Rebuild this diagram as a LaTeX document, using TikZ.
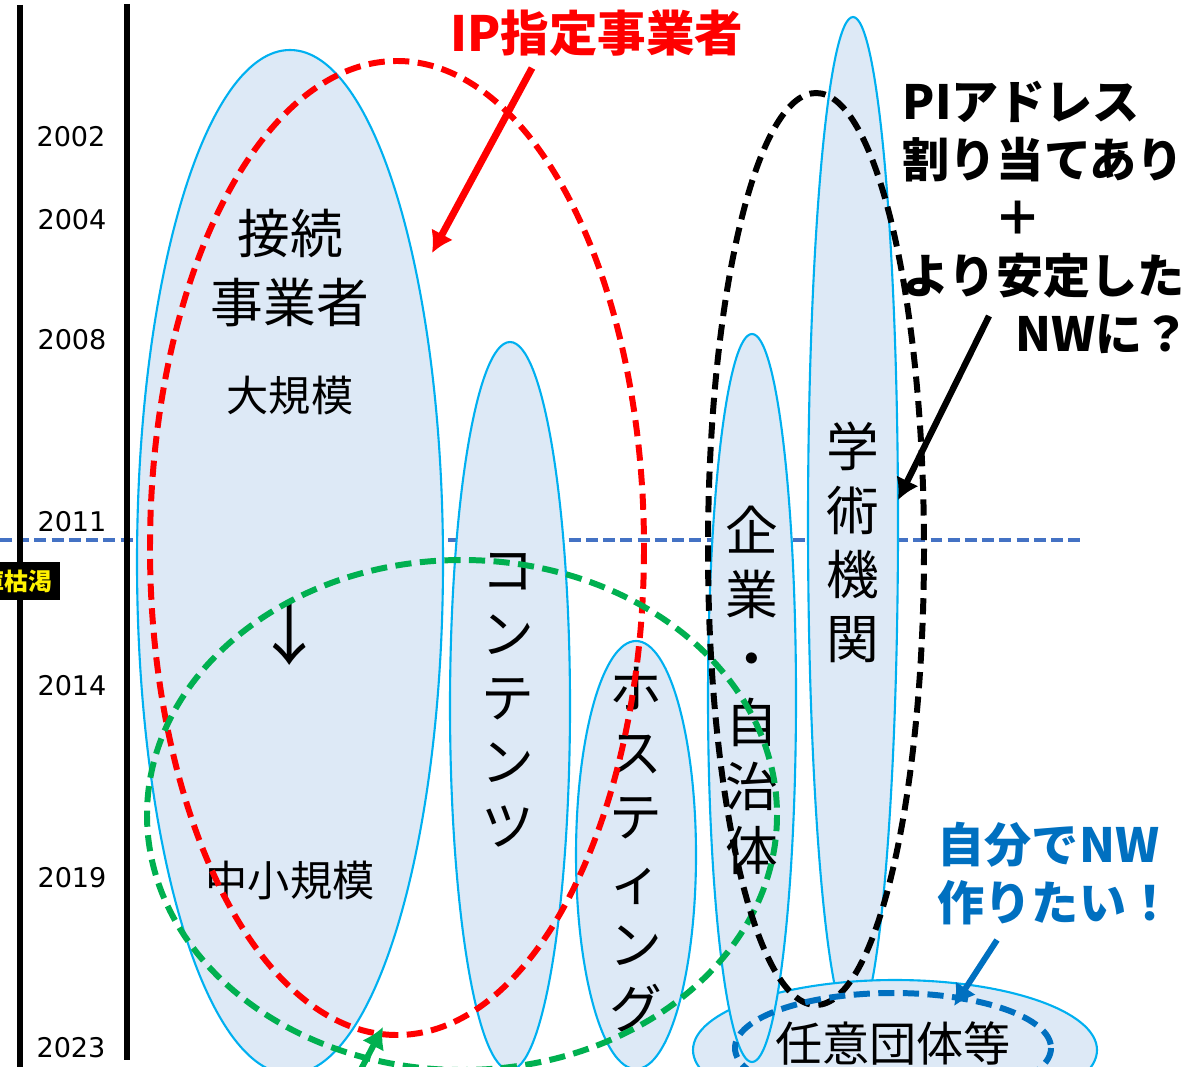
\documentclass[tikz,border=0pt]{standalone}
\usepackage{fontspec}
\setmainfont{Noto Sans CJK JP}
\newfontfamily\yearfont{DejaVu Sans}
\usetikzlibrary{arrows,arrows.meta,positioning}
\definecolor{cellblue}{RGB}{221,233,246}
\definecolor{cellline}{RGB}{0,176,240}
\definecolor{epochblue}{RGB}{68,114,196}
\definecolor{pgreen}{RGB}{0,176,80}
\definecolor{pblue}{RGB}{0,112,192}
\definecolor{pred}{RGB}{255,0,0}

\begin{document}
\begin{tikzpicture}[%
      x=0.01cm, y=-0.01cm,
      every node/.style={inner sep=0pt, align=center},
      cell/.style={draw=cellline, fill=cellblue, line width=0.6pt},
      ring/.style={line width=1.7pt, dash pattern=on 4.6pt off 2.4pt},
      yearlbl/.style={font=\yearfont\fontsize{7.7}{9}\selectfont},
      vlbl/.style={font=\fontsize{15}{18.2}\selectfont},
      big/.style={font=\fontsize{15}{18.2}\selectfont},
      mid/.style={font=\fontsize{12}{14}\selectfont},
      note/.style={font=\bfseries\fontsize{13.4}{16.5}\selectfont, align=left},
      node distance=0.8cm, >={Latex[length=6pt,width=7pt]}
    ]
    \useasboundingbox (0,0) rectangle (1185,1067);
    % time axis
    \draw [epochblue, line width=1.1pt, dash pattern=on 3.4pt off 1.5pt] (0,540) -- (1080,540);
    \draw [line width=1.7pt] (20,5) -- (20,1067);
    \draw [line width=1.7pt] (127,4) -- (127,1060);
    \node [yearlbl] (y2002) at (71,137) {2002};
    \node [yearlbl] (y2004) at (72,220) {2004};
    \node [yearlbl] (y2008) at (72,340) {2008};
    \node [yearlbl] (y2011) at (72,522) {2011};
    \node [yearlbl] (y2014) at (72,686) {2014};
    \node [yearlbl] (y2019) at (72,878) {2019};
    \node [yearlbl] (y2023) at (71,1048) {2023};
    \node [fill=black, text=yellow, inner sep=2.2pt, anchor=east,
      font=\bfseries\fontsize{6.8}{8}\selectfont] (kokatsu) at (61,581) {在庫枯渇};

    % groups
    \draw [cell] (290,562) ellipse [x radius=153, y radius=512];
    \draw [cell] (510,706) ellipse [x radius=60, y radius=364];
    \draw [cell] (636,855) ellipse [x radius=60, y radius=214];
    \draw [cell] (853,523) ellipse [x radius=45, y radius=506];
    \draw [cell] (895,1050) ellipse [x radius=202, y radius=70];
    \draw [cell] (752,698) ellipse [x radius=44, y radius=364];

    \node [big] (setsu) at (290,233) {接続};
    \node [big, below=0.19cm of setsu] (jigyo) {事業者};
    \node [mid] (daikibo) at (290,395) {大規模};
    \node [font=\fontsize{20}{22}\selectfont] (shift) at (290,633) {↓};
    \node [mid] (chusho) at (290,880) {中小規模};
    \node [vlbl] (content) at (508,700) {コ\\ン\\テ\\ン\\ツ};
    \node [vlbl] (hosting) at (636,850) {ホ\\ス\\テ\\ィ\\ン\\グ};
    \node [vlbl] (kigyo) at (752,690) {企\\業\\・\\自\\治\\体};
    \node [vlbl] (gakujutsu) at (853,542) {学\\術\\機\\関};
    \node [font=\fontsize{13.4}{16}\selectfont] (nini) at (893,1043) {任意団体等};

    % rings
    \draw [ring, pred] (397,548) ellipse [x radius=247, y radius=487];
    \draw [ring, pgreen] (462,815) ellipse [x radius=315, y radius=255];
    \draw [ring, black] (816,549) ellipse [x radius=108, y radius=456];
    \draw [ring, pblue] (893,1048) ellipse [x radius=158, y radius=55];

    % callouts
    \node [font=\bfseries\fontsize{13.8}{16}\selectfont, text=pred] (ipsp) at (597,33) {IP指定事業者};
    \node [note, anchor=west] (piaddr) at (902,217) {PIアドレス\\割り当てあり\\\hspace{26pt}＋\\より安定した\\\hspace{32pt}NWに？};
    \node [note, anchor=west, text=pblue] (selfnw) at (937,874) {自分でNW\\作りたい！};
    \coordinate (redfrom) at (532,68);
    \coordinate (redto) at (432,253);
    \coordinate (blkfrom) at (989,316);
    \coordinate (blkto) at (898,500);
    \coordinate (bluefrom) at (997,940);
    \coordinate (blueto) at (954,1006);
    \coordinate (grnfrom) at (358,1075);
    \coordinate (grnto) at (383,1027);
    \path [draw] (redfrom) edge[->, pred, line width=2pt] (redto)
    (blkfrom) edge[->, line width=1.8pt] (blkto)
    (bluefrom) edge[->, pblue, line width=1.7pt] (blueto)
    (grnfrom) edge[->, pgreen, line width=1.7pt] (grnto)
    ;
  \end{tikzpicture}
\end{document}
